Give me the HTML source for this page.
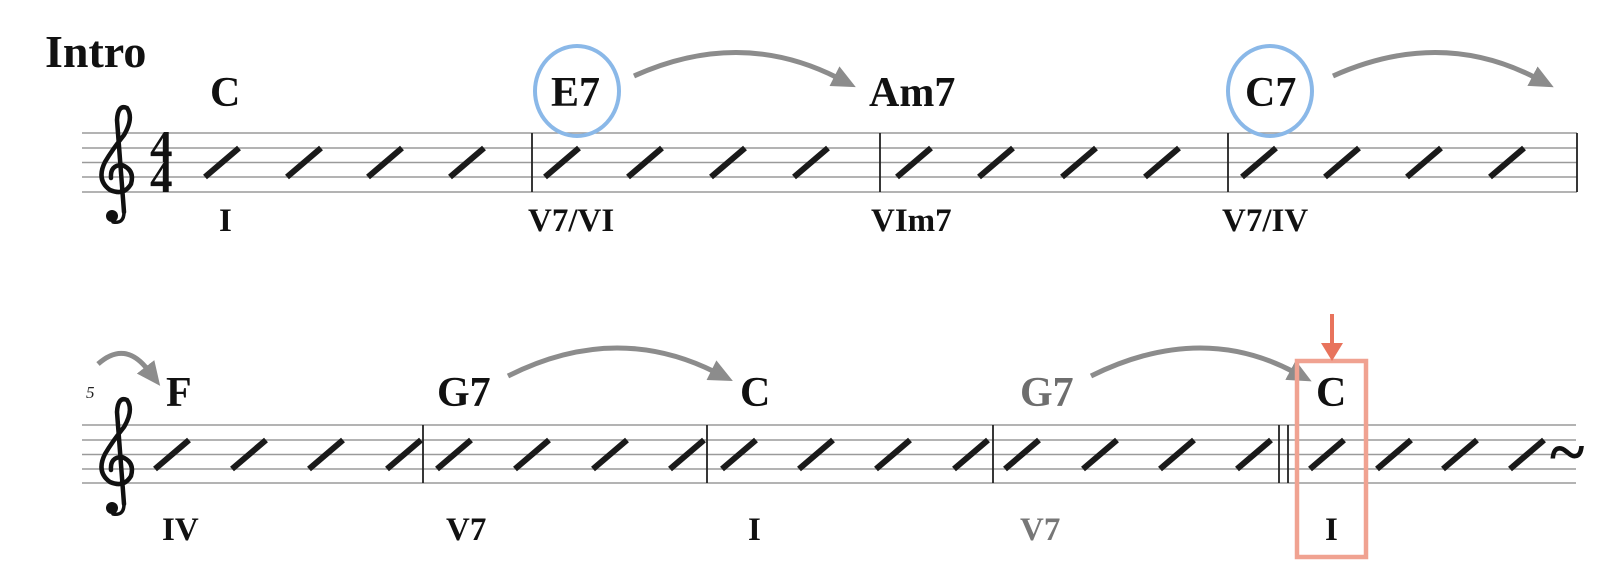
<!DOCTYPE html>
<html><head><meta charset="utf-8"><style>
html,body{margin:0;padding:0;background:#fff;}
svg{display:block;}
.ch{font-family:"Liberation Serif",serif;font-weight:bold;font-size:42px;fill:#111;}
.rn{font-family:"Liberation Serif",serif;font-weight:bold;font-size:33px;fill:#111;}
.st{stroke:#9a9a9a;stroke-width:1.6;}
.bl{stroke:#222;stroke-width:1.8;}
.sl{stroke:#1a1a1a;stroke-width:6;}
.ar{stroke:#8c8c8c;stroke-width:5;fill:none;}
</style></head><body>
<svg width="1617" height="588" viewBox="0 0 1617 588" xmlns="http://www.w3.org/2000/svg">
<defs>
<marker id="ah" markerUnits="userSpaceOnUse" markerWidth="26" markerHeight="22" refX="4" refY="11" orient="auto">
<path d="M0,0 L24,11 L0,22 Z" fill="#8c8c8c"/>
</marker>
<g id="clef" fill="none" stroke="#111" stroke-linecap="round">
<path d="M124 212 L117 120 Q118 104 127 108 Q134 118 124 135 Q112 150 105 162 Q96 180 110 190 Q124 196 131 184 Q135 170 122 165 Q110 165 111 178" stroke-width="4.5"/>
<path d="M124 212 Q124 224 113 222" stroke-width="3.5"/>
<circle cx="112" cy="216" r="6" fill="#111" stroke="none"/>
</g>
</defs>

<text x="45" y="67" class="ch" style="font-size:46px">Intro</text>

<!-- staff 1 -->
<g>
<line class="st" x1="82" y1="133" x2="1577" y2="133"/>
<line class="st" x1="82" y1="148" x2="1577" y2="148"/>
<line class="st" x1="82" y1="162.5" x2="1577" y2="162.5"/>
<line class="st" x1="82" y1="177" x2="1577" y2="177"/>
<line class="st" x1="82" y1="192" x2="1577" y2="192"/>
<line class="bl" x1="532" y1="133" x2="532" y2="192"/>
<line class="bl" x1="880" y1="133" x2="880" y2="192"/>
<line class="bl" x1="1228" y1="133" x2="1228" y2="192"/>
<line class="bl" x1="1577" y1="133" x2="1577" y2="192"/>
</g>
<use href="#clef"/>
<text x="150" y="162" class="ch" style="font-size:45px">4</text>
<text x="150" y="192" class="ch" style="font-size:45px">4</text>

<g class="sl">
<line x1="205" y1="177" x2="239" y2="148"/>
<line x1="287" y1="177" x2="321" y2="148"/>
<line x1="368" y1="177" x2="402" y2="148"/>
<line x1="450" y1="177" x2="484" y2="148"/>
<line x1="545" y1="177" x2="579" y2="148"/>
<line x1="628" y1="177" x2="662" y2="148"/>
<line x1="711" y1="177" x2="745" y2="148"/>
<line x1="794" y1="177" x2="828" y2="148"/>
<line x1="897" y1="177" x2="931" y2="148"/>
<line x1="979" y1="177" x2="1013" y2="148"/>
<line x1="1062" y1="177" x2="1096" y2="148"/>
<line x1="1145" y1="177" x2="1179" y2="148"/>
<line x1="1242" y1="177" x2="1276" y2="148"/>
<line x1="1325" y1="177" x2="1359" y2="148"/>
<line x1="1407" y1="177" x2="1441" y2="148"/>
<line x1="1490" y1="177" x2="1524" y2="148"/>
</g>

<text x="210" y="106" class="ch">C</text>
<ellipse cx="577" cy="91" rx="42" ry="45" fill="none" stroke="#8ab8e8" stroke-width="4"/>
<text x="551" y="106" class="ch">E7</text>
<path class="ar" d="M634 76 Q740 28 838 78" marker-end="url(#ah)"/>
<text x="869" y="106" class="ch">Am7</text>
<ellipse cx="1270" cy="91" rx="42" ry="45" fill="none" stroke="#8ab8e8" stroke-width="4"/>
<text x="1245" y="106" class="ch">C7</text>
<path class="ar" d="M1333 76 Q1440 28 1536 78" marker-end="url(#ah)"/>

<text x="219" y="231" class="rn">I</text>
<text x="528" y="231" class="rn">V7/VI</text>
<text x="871" y="231" class="rn">VIm7</text>
<text x="1222" y="231" class="rn">V7/IV</text>

<!-- staff 2 -->
<g>
<line class="st" x1="82" y1="425" x2="1576" y2="425"/>
<line class="st" x1="82" y1="440" x2="1576" y2="440"/>
<line class="st" x1="82" y1="454.5" x2="1576" y2="454.5"/>
<line class="st" x1="82" y1="469" x2="1576" y2="469"/>
<line class="st" x1="82" y1="483" x2="1576" y2="483"/>
<line class="bl" x1="423" y1="425" x2="423" y2="483"/>
<line class="bl" x1="707" y1="425" x2="707" y2="483"/>
<line class="bl" x1="993" y1="425" x2="993" y2="483"/>
<line class="bl" x1="1279" y1="425" x2="1279" y2="483"/>
<line class="bl" x1="1288" y1="425" x2="1288" y2="483"/>
</g>
<use href="#clef" transform="translate(0,292)"/>
<text x="86" y="398" style="font-family:'Liberation Serif',serif;font-style:italic;font-size:17px;fill:#222">5</text>

<g class="sl">
<line x1="155" y1="469" x2="189" y2="440"/>
<line x1="232" y1="469" x2="266" y2="440"/>
<line x1="309" y1="469" x2="343" y2="440"/>
<line x1="387" y1="469" x2="421" y2="440"/>
<line x1="437" y1="469" x2="471" y2="440"/>
<line x1="515" y1="469" x2="549" y2="440"/>
<line x1="593" y1="469" x2="627" y2="440"/>
<line x1="670" y1="469" x2="704" y2="440"/>
<line x1="722" y1="469" x2="756" y2="440"/>
<line x1="799" y1="469" x2="833" y2="440"/>
<line x1="876" y1="469" x2="910" y2="440"/>
<line x1="954" y1="469" x2="988" y2="440"/>
<line x1="1005" y1="469" x2="1039" y2="440"/>
<line x1="1083" y1="469" x2="1117" y2="440"/>
<line x1="1160" y1="469" x2="1194" y2="440"/>
<line x1="1237" y1="469" x2="1271" y2="440"/>
<line x1="1310" y1="469" x2="1344" y2="440"/>
<line x1="1377" y1="469" x2="1411" y2="440"/>
<line x1="1443" y1="469" x2="1477" y2="440"/>
<line x1="1510" y1="469" x2="1544" y2="440"/>
</g>
<text x="1550" y="474" style="font-family:'Liberation Serif',serif;font-weight:bold;font-size:66px;fill:#111">~</text>

<path class="ar" d="M98 364 Q125 340 148 370" marker-end="url(#ah)"/>
<text x="166" y="406" class="ch">F</text>
<text x="437" y="406" class="ch">G7</text>
<path class="ar" d="M508 376 Q615 322 715 372" marker-end="url(#ah)"/>
<text x="740" y="406" class="ch">C</text>
<text x="1020" y="406" class="ch" style="fill:#6e6e6e">G7</text>
<path class="ar" d="M1091 376 Q1200 322 1294 372" marker-end="url(#ah)"/>
<text x="1316" y="406" class="ch">C</text>

<rect x="1297" y="361" width="69" height="196" fill="none" stroke="#f0a291" stroke-width="4.5"/>
<line x1="1332" y1="314" x2="1332" y2="346" stroke="#e8735c" stroke-width="4"/>
<path d="M1321 343 L1343 343 L1332 361 Z" fill="#e8735c"/>

<text x="162" y="540" class="rn">IV</text>
<text x="446" y="540" class="rn">V7</text>
<text x="748" y="540" class="rn">I</text>
<text x="1020" y="540" class="rn" style="fill:#777">V7</text>
<text x="1325" y="540" class="rn">I</text>
</svg>
</body></html>
